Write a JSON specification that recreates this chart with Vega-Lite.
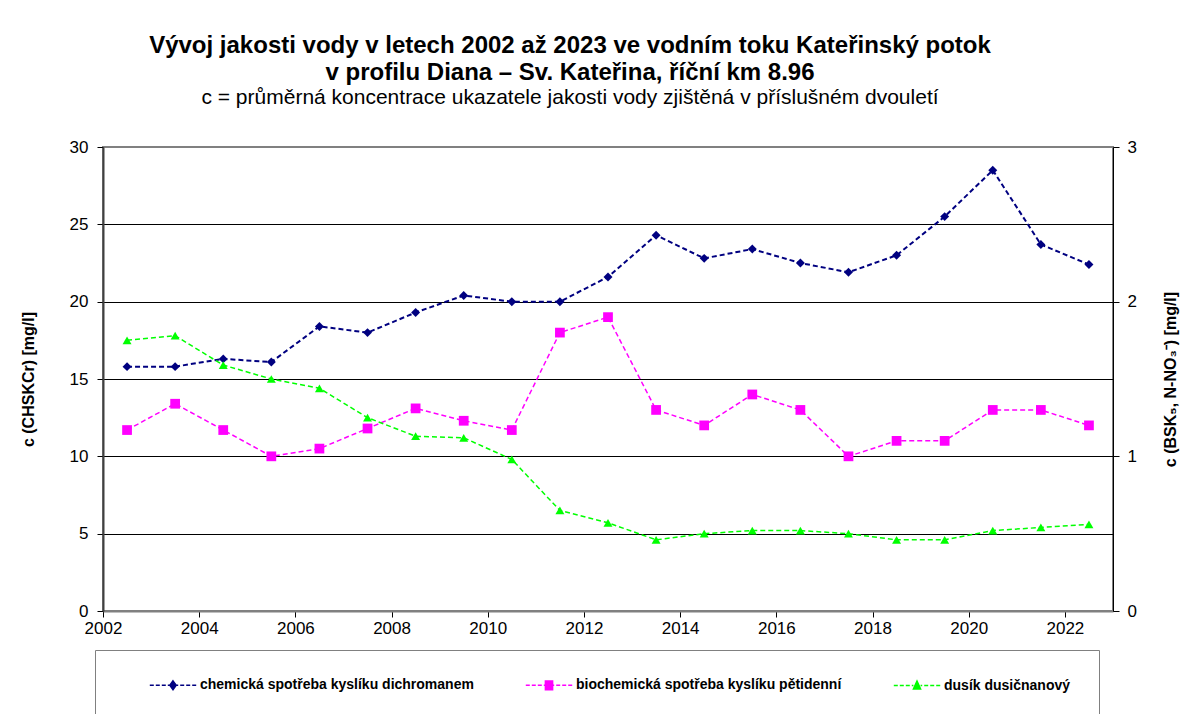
{
  "$schema": "https://vega.github.io/schema/vega-lite/v6.json",
  "autosize": {"type": "none"},
  "width": 1010,
  "height": 464,
  "padding": {"left": 103, "top": 147, "right": 79, "bottom": 103},
  "background": "white",
  "config": {
    "font": "Liberation Sans",
    "view": {"stroke": "#808080", "strokeWidth": 2},
    "axis": {"labelFont": "Liberation Sans", "labelFontSize": 17, "labelColor": "black", "tickColor": "black", "tickSize": 6, "titleFont": "Liberation Sans", "titleColor": "black"}
  },
  "title": {
    "text": ["Vývoj jakosti vody v letech 2002 až 2023 ve vodním toku Kateřinský potok", "v profilu Diana – Sv. Kateřina, říční km 8.96"],
    "subtitle": "c = průměrná koncentrace ukazatele jakosti vody zjištěná v příslušném dvouletí",
    "font": "Liberation Sans", "fontSize": 24, "fontWeight": "bold", "lineHeight": 27, "color": "black",
    "subtitleFont": "Liberation Sans", "subtitleFontSize": 21, "subtitleColor": "black", "subtitlePadding": 2,
    "anchor": "middle", "frame": "group", "dx": -38, "offset": 30
  },
  "data": {"values": [
    {"year": 2002.5, "CHSK": 15.8, "BSK": 1.17, "N": 1.75},
    {"year": 2003.5, "CHSK": 15.8, "BSK": 1.34, "N": 1.78},
    {"year": 2004.5, "CHSK": 16.3, "BSK": 1.17, "N": 1.59},
    {"year": 2005.5, "CHSK": 16.1, "BSK": 1.00, "N": 1.50},
    {"year": 2006.5, "CHSK": 18.4, "BSK": 1.05, "N": 1.44},
    {"year": 2007.5, "CHSK": 18.0, "BSK": 1.18, "N": 1.25},
    {"year": 2008.5, "CHSK": 19.3, "BSK": 1.31, "N": 1.13},
    {"year": 2009.5, "CHSK": 20.4, "BSK": 1.23, "N": 1.12},
    {"year": 2010.5, "CHSK": 20.0, "BSK": 1.17, "N": 0.98},
    {"year": 2011.5, "CHSK": 20.0, "BSK": 1.80, "N": 0.65},
    {"year": 2012.5, "CHSK": 21.6, "BSK": 1.90, "N": 0.57},
    {"year": 2013.5, "CHSK": 24.3, "BSK": 1.30, "N": 0.46},
    {"year": 2014.5, "CHSK": 22.8, "BSK": 1.20, "N": 0.50},
    {"year": 2015.5, "CHSK": 23.4, "BSK": 1.40, "N": 0.52},
    {"year": 2016.5, "CHSK": 22.5, "BSK": 1.30, "N": 0.52},
    {"year": 2017.5, "CHSK": 21.9, "BSK": 1.00, "N": 0.50},
    {"year": 2018.5, "CHSK": 23.0, "BSK": 1.10, "N": 0.46},
    {"year": 2019.5, "CHSK": 25.5, "BSK": 1.10, "N": 0.46},
    {"year": 2020.5, "CHSK": 28.5, "BSK": 1.30, "N": 0.52},
    {"year": 2021.5, "CHSK": 23.7, "BSK": 1.30, "N": 0.54},
    {"year": 2022.5, "CHSK": 22.4, "BSK": 1.20, "N": 0.56}
  ]},
  "transform": [{"fold": ["CHSK", "BSK", "N"], "as": ["series", "value"]}],
  "encoding": {
    "x": {
      "field": "year", "type": "quantitative",
      "scale": {"domain": [2002, 2023], "nice": false, "zero": false},
      "axis": {"values": [2002, 2004, 2006, 2008, 2010, 2012, 2014, 2016, 2018, 2020, 2022], "format": "d", "labelPadding": 3, "domainColor": "#808080", "domainWidth": 2, "grid": false, "title": null, "labelFlush": false}
    }
  },
  "layer": [
    {
      "transform": [{"filter": "datum.series == 'CHSK'"}],
      "encoding": {
        "y": {
          "field": "value", "type": "quantitative",
          "scale": {"domain": [0, 30], "nice": false},
          "axis": {
            "orient": "left", "values": [0, 5, 10, 15, 20, 25, 30], "grid": true,
            "gridColor": {"condition": {"test": "datum.value == 0 || datum.value == 30", "value": "transparent"}, "value": "black"},
            "gridWidth": 1, "domainColor": "#404040", "domainWidth": 2, "labelPadding": 9,
            "title": "c (CHSKCr) [mg/l]", "titleFontSize": 16, "titleFontWeight": "bold", "titlePadding": 33
          }
        }
      },
      "layer": [
        {
          "mark": {"type": "line", "strokeDash": [5, 3], "strokeWidth": 2},
          "encoding": {
            "color": {
              "field": "series", "type": "nominal",
              "scale": {"domain": ["CHSK", "BSK", "N"], "range": ["#000080", "#ff00ff", "#00ff00"]},
              "legend": {
                "title": null, "orient": "none", "legendX": -8, "legendY": 503, "direction": "horizontal",
                "strokeColor": "#808080", "padding": 28,
                "labelFont": "Liberation Sans", "labelFontSize": 14, "labelFontWeight": "bold", "labelColor": "black",
                "symbolSize": 64, "symbolOffset": 43, "labelOffset": 20, "columnPadding": 25, "labelLimit": 0,
                "labelExpr": "datum.value == 'CHSK' ? 'chemická spotřeba kyslíku dichromanem' : datum.value == 'BSK' ? 'biochemická spotřeba kyslíku pětidenní' : 'dusík dusičnanový'",
                "encode": {
                  "symbols": {
                    "update": {
                      "shape": {"signal": "['M-5.8,0H-4.8M-4.3,0H-3.3M-2.8,0H-1.8M-1.3,0H-0.8M0.8,0H1.3M1.8,0H2.8M3.3,0H4.3M4.8,0H5.8M0,-1.1L0.8,0L0,1.1L-0.8,0Z', 'M-5.8,0H-4.8M-4.3,0H-3.3M-2.8,0H-1.8M-1.3,0H-0.9M0.9,0H1.3M1.8,0H2.8M3.3,0H4.3M4.8,0H5.8M-0.9,-1.1H0.9V1.1H-0.9Z', 'M-5.8,0H-4.8M-4.3,0H-3.3M-2.8,0H-1.8M-1.3,0H-0.9M0.9,0H1.3M1.8,0H2.8M3.3,0H4.3M4.8,0H5.8M0,-1.1L0.9,0.9H-0.9Z'][datum.index]"},
                      "fill": {"signal": "['#000080', '#ff00ff', '#00ff00'][datum.index]"},
                      "stroke": {"signal": "['#000080', '#ff00ff', '#00ff00'][datum.index]"},
                      "strokeWidth": {"value": 1.5},
                      "strokeDash": {"value": []},
                      "opacity": {"value": 1},
                      "fillOpacity": {"value": 1}
                    }
                  }
                }
              }
            }
          }
        },
        {"mark": {"type": "point", "shape": "diamond", "filled": true, "size": 80, "color": "#000080", "opacity": 1}}
      ]
    },
    {
      "transform": [{"filter": "datum.series != 'CHSK'"}],
      "encoding": {
        "y": {
          "field": "value", "type": "quantitative",
          "scale": {"domain": [0, 3], "nice": false},
          "axis": {
            "orient": "right", "values": [0, 1, 2, 3], "grid": false,
            "domainColor": "black", "domainWidth": 1, "labelPadding": 8,
            "title": "c (BSK₅, N-NO₃⁻) [mg/l]", "titleFontSize": 16, "titleFontWeight": "bold", "titleAngle": 270, "titlePadding": 42
          }
        }
      },
      "layer": [
        {
          "mark": {"type": "line", "strokeDash": [5, 3], "strokeWidth": 1.5},
          "encoding": {"color": {"field": "series", "type": "nominal"}}
        },
        {
          "transform": [{"filter": "datum.series == 'BSK'"}],
          "mark": {"type": "point", "shape": "square", "filled": true, "size": 95, "color": "#ff00ff", "opacity": 1}
        },
        {
          "transform": [{"filter": "datum.series == 'N'"}],
          "mark": {"type": "point", "shape": "triangle-up", "filled": true, "size": 80, "color": "#00ff00", "opacity": 1}
        }
      ]
    }
  ],
  "resolve": {"scale": {"y": "independent"}}
}
